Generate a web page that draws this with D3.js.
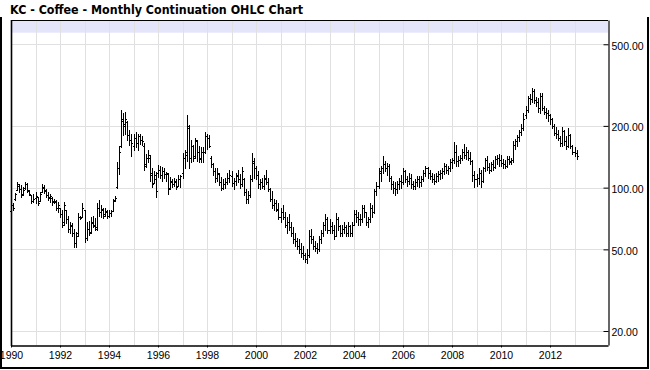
<!DOCTYPE html>
<html>
<head>
<meta charset="utf-8">
<script src="https://cdn.jsdelivr.net/npm/d3@7/dist/d3.min.js"></script>
<style>
  html, body { margin: 0; padding: 0; background: #ffffff; }
  svg { display: block; }
</style>
</head>
<body>
<div id="chart"></div>
<script>
// ---------------- DATA (monthly OHLC, Jan 1990 .. Feb 2013) ----------------
const startYear = 1990;
const titleText = "KC - Coffee - Monthly Continuation OHLC Chart";

const openVals = [
  77,82,88,97,102,99,93,100,104,96,92,86,          // 1990
  89,90,86,95,100,97,92,90,89,86,86,80,            // 1991
  80,74,68,78,70,63,65,60,54,60,72,72,             // 1992
  78,57,63,61,67,65,64,80,76,78,74,76,             // 1993
  73,75,77,87,101,125,160,212,205,210,180,170,     // 1994
  160,175,165,178,170,160,130,140,140,118,105,110, // 1995
  118,122,115,120,116,117,100,106,104,107,102,110, // 1996
  118,140,150,195,140,160,142,168,150,138,150,150, // 1997
  178,175,140,130,120,112,116,106,100,104,107,112, // 1998
  114,105,108,114,110,104,110,95,88,92,110,132,    // 1999
  124,115,104,106,102,110,106,98,88,82,84,78,      // 2000
  72,76,72,66,68,64,60,56,55,52,50,48,             // 2001
  47,45,47,58,56,52,51,50,56,60,66,70,             // 2002
  62,65,62,58,70,65,60,63,64,60,65,60,             // 2003
  66,74,72,70,70,80,76,68,70,80,76,96,             // 2004
  102,118,125,130,124,128,112,104,100,98,104,108,  // 2005
  106,120,110,108,112,104,102,106,110,106,110,118, // 2006
  124,118,114,110,108,114,116,118,120,128,122,124, // 2007
  134,136,150,135,136,140,150,145,150,140,135,115, // 2008
  110,112,118,108,124,136,126,122,130,126,138,140, // 2009
  136,132,130,128,138,134,136,162,168,176,186,195, // 2010
  225,240,275,270,295,268,262,245,280,245,235,232, // 2011
  226,215,200,185,182,174,165,188,168,160,180,160, // 2012
  150,148                                          // 2013
];
const highVals = [
  84,84,94,106,104,103,101,107,105,97,92,93,
  95,90,95,104,103,99,95,93,90,88,87,85,
  80,78,85,78,73,68,67,63,61,75,73,84,
  78,68,69,72,73,71,84,87,82,80,80,78,
  78,78,88,91,133,160,239,230,235,212,190,183,
  183,186,183,183,178,165,146,152,145,124,120,119,
  129,127,126,124,119,118,113,110,112,110,115,115,
  147,152,226,202,171,162,175,170,160,158,158,186,
  183,180,142,132,124,125,118,113,110,112,118,122,
  120,112,118,122,116,126,112,98,96,115,148,140,
  128,120,110,112,115,122,112,100,96,88,87,84,
  80,82,76,72,74,68,64,60,57,56,54,52,
  48,50,62,63,58,55,54,58,62,68,74,72,
  70,68,66,75,72,66,66,68,66,68,66,68,
  78,78,76,74,82,82,76,72,84,82,98,106,
  125,128,142,135,132,130,114,108,106,108,112,115,
  124,122,114,118,116,108,110,114,114,114,122,128,
  126,122,118,116,118,120,122,124,132,130,128,138,
  140,166,162,142,145,155,163,158,152,150,136,120,
  116,125,122,126,140,143,132,134,136,142,145,146,
  145,138,136,142,142,140,168,172,180,192,205,232,
  250,280,285,306,304,278,275,290,290,250,245,238,
  228,218,205,198,190,178,198,192,178,196,182,162,
  158,152
];
const lowVals = [
  76,78,87,97,95,90,92,99,95,92,84,85,
  84,82,86,95,94,90,87,85,82,84,78,76,
  72,64,66,67,61,60,58,51.5,51.5,58,70,72,
  54.5,55.5,59,60,64,62,62,73,72,71,73,71,
  72,73,77,86,100,117,158,181,183,170,161,143,
  152,158,152,164,161,122,126,133,108,101,105,90,
  113,111,108,111,108,93.5,99,101,102,99,102,101,
  112,125,135,124,133,135,140,135,133,134,133,148,
  155,158,126,115,107,108,103,97,98,100,104,106,
  102,99,103,106,100,102,92,84,84,90,108,112,
  110,100,98,100,99,104,96,86,80,78,77,70,
  68,70,64,60,62,58,54,52,50,48,46,45,
  43.2,43,46,54,50,49,48,49,54,58,62,60,
  60,60,56,58,62,58,58,60,58,58,58,58,
  66,68,66,66,68,72,66,64,68,72,75,92,
  100,108,118,120,115,108,98,94,92,94,98,100,
  104,106,102,104,100,98,99,102,101,102,108,114,
  112,110,106,104,106,108,110,112,116,118,116,120,
  125,132,128,128,132,136,140,138,136,131,108,100.5,
  102,104,101,106,120,122,118,120,122,124,130,128,
  128,125,124,126,130,130,134,155,160,168,180,190,
  218,235,255,262,260,250,235,232,240,228,218,212,
  205,196,180,175,170,160,160,162,155,158,156,146,
  142,138
];
const closeVals = [
  82,80,93,104,98,92,97,104,97,93,86,88,
  91,84,93,101,96,92,89,91,85,85,80,82,
  74,66,82,70,63,66,60,54,58,72,71,80,
  57,63,60,68,66,63,80,76,79,73,77,73,
  75,77,86,89,125,150,215,200,215,180,170,165,
  175,165,178,170,168,128,140,145,115,104,115,96,
  122,115,120,116,118,98,108,104,108,101,110,114,
  140,145,200,140,160,140,170,150,140,150,150,178,
  175,160,130,120,112,118,106,100,104,107,112,115,
  105,108,115,110,104,120,95,88,92,110,135,125,
  115,104,106,102,112,106,99,88,82,84,79,72,
  76,72,66,68,64,60,56,55,52,50,48,47,
  45,47,58,56,52,51,50,56,60,66,70,62,
  65,62,58,70,65,60,63,64,60,65,60,66,
  74,72,70,70,80,76,68,70,80,76,96,102,
  120,125,130,124,128,112,104,100,98,104,108,106,
  120,110,108,112,104,102,106,110,106,110,118,124,
  118,114,110,108,114,116,118,120,128,122,124,134,
  136,150,135,136,140,150,145,150,140,135,115,110,
  112,118,108,124,136,126,122,130,126,138,140,136,
  132,130,128,138,135,136,162,168,176,186,195,215,
  240,275,270,295,268,262,245,280,245,235,232,226,
  215,200,185,182,174,165,188,168,160,180,160,150,
  148,142
];

const yTickValues = [20, 50, 100, 200, 500];
const yTickLabels = ["20.00", "50.00", "100.00", "200.00", "500.00"];
const xLabelYears = [1990,1992,1994,1996,1998,2000,2002,2004,2006,2008,2010,2012];
const xGridYears = d3.range(1990, 2014);

// ---------------- LAYOUT ----------------
const W = 650, H = 370;
const plot = { left: 11, right: 608, top: 20, bottom: 345 };

const svg = d3.select("#chart").append("svg")
  .attr("width", W).attr("height", H)
  .attr("viewBox", `0 0 ${W} ${H}`);

svg.append("rect").attr("width", W).attr("height", H).attr("fill", "#ffffff");

const x = d3.scaleLinear()
  .domain([1990, 2014.367])
  .range([plot.left, plot.right]);
const y = d3.scaleLog()
  .domain([17.09, 656.6])
  .range([plot.bottom, plot.top]);

// outer frame (left, bottom, right)
svg.append("path")
  .attr("d", `M1,17 V368 H648 V17`)
  .attr("fill", "none").attr("stroke", "#000").attr("stroke-width", 2);

// Title
svg.append("text")
  .attr("x", 10).attr("y", 13.5)
  .attr("font-family", "'DejaVu Sans', Verdana, sans-serif")
  .attr("font-weight", "bold")
  .attr("font-size", 11.5)
  .attr("textLength", 293)
  .attr("lengthAdjust", "spacingAndGlyphs")
  .attr("fill", "#000")
  .text(titleText);

// lavender band at top of plot
svg.append("rect")
  .attr("x", plot.left).attr("y", plot.top + 0.5)
  .attr("width", plot.right - plot.left).attr("height", 12.2)
  .attr("fill", "#e4e4fb");

// grid
const grid = svg.append("g").attr("shape-rendering", "crispEdges");
grid.selectAll("line.vg").data(xGridYears).enter().append("line")
  .attr("class", "vg")
  .attr("x1", d => Math.round(x(d)) + 0.5).attr("x2", d => Math.round(x(d)) + 0.5)
  .attr("y1", plot.top).attr("y2", plot.bottom)
  .attr("stroke", "#e0e0e0").attr("stroke-width", 1);
grid.selectAll("line.hg").data(yTickValues).enter().append("line")
  .attr("class", "hg")
  .attr("x1", plot.left).attr("x2", plot.right)
  .attr("y1", d => Math.round(y(d)) + 0.5).attr("y2", d => Math.round(y(d)) + 0.5)
  .attr("stroke", "#e0e0e0").attr("stroke-width", 1);

// OHLC bars
const bars = svg.append("g").attr("shape-rendering", "crispEdges")
  .attr("stroke", "#000").attr("stroke-width", 1).attr("fill", "none");
const idx = d3.range(openVals.length);
const xb = i => Math.round(x(startYear + i / 12));
const yp = v => Math.round(y(v)) + 0.5;
bars.selectAll("path").data(idx).enter().append("path")
  .attr("d", i => {
    const cx = xb(i);
    return `M${cx + 0.5},${Math.round(y(highVals[i]))}V${Math.round(y(lowVals[i])) + 1}` +
           `M${cx - 1},${yp(openVals[i])}H${cx + 1}` +
           `M${cx},${yp(closeVals[i])}H${cx + 2}`;
  });

// plot frame: top line
svg.append("line")
  .attr("x1", plot.left).attr("x2", plot.right)
  .attr("y1", plot.top + 0.5).attr("y2", plot.top + 0.5)
  .attr("stroke", "#000").attr("stroke-width", 1).attr("shape-rendering", "crispEdges");
// left line
svg.append("line")
  .attr("x1", plot.left + 0.5).attr("x2", plot.left + 0.5)
  .attr("y1", plot.top).attr("y2", plot.bottom + 1)
  .attr("stroke", "#000").attr("stroke-width", 1.6);

// right axis
const yAxis = d3.axisRight(y)
  .tickValues(yTickValues)
  .tickFormat((d, i) => yTickLabels[i])
  .tickSizeInner(-5).tickSizeOuter(0).tickPadding(3);
const gy = svg.append("g")
  .attr("transform", `translate(${plot.right + 0.5},0)`)
  .call(yAxis);
gy.select(".domain").attr("stroke", "#000").attr("stroke-width", 1.2);
gy.selectAll(".tick line").attr("stroke", "#000");
gy.selectAll(".tick text")
  .attr("font-family", "'Liberation Sans', Arial, sans-serif")
  .attr("font-size", 10.5).attr("fill", "#000").attr("dy", "0.45em");

// bottom axis
const xAxis = d3.axisBottom(x)
  .tickValues(xLabelYears)
  .tickFormat(d3.format("d"))
  .tickSizeInner(2).tickSizeOuter(0).tickPadding(4.5);
const gx = svg.append("g")
  .attr("transform", `translate(0,${plot.bottom + 0.5})`)
  .call(xAxis);
gx.select(".domain").attr("stroke", "#000").attr("stroke-width", 1.5);
gx.selectAll(".tick line").attr("stroke", "#000");
gx.selectAll(".tick text")
  .attr("font-family", "'Liberation Sans', Arial, sans-serif")
  .attr("font-size", 10.5).attr("fill", "#000");
</script>
</body>
</html>
